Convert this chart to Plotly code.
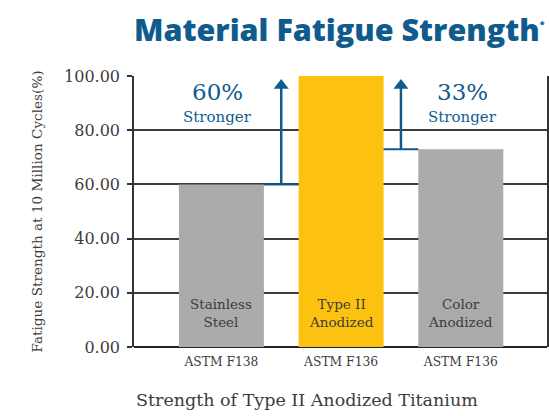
import plotly.graph_objects as go

categories = ["Stainless<br>Steel", "Type II<br>Anodized", "Color<br>Anodized"]
standards = ["ASTM F138", "ASTM F136", "ASTM F136"]
strength = [60, 100, 73]
bar_colors = ["#aaabaa", "#fdc20f", "#aaabaa"]
gains = ["60%", "33%"]
y_ticks = [0, 20, 40, 60, 80, 100]

BLUE = "#105b8e"
TXT = "#3c3c3c"
SERIF = "DejaVu Serif"

xs = list(range(len(categories)))
bw = 0.71

fig = go.Figure()
fig.add_trace(go.Bar(x=xs, y=strength, width=bw, marker=dict(color=bar_colors, line=dict(width=0)),
                     hoverinfo="skip", showlegend=False))

# bar inner labels
for i, c in enumerate(categories):
    fig.add_annotation(x=i, y=12.5, text=c, showarrow=False, xref="x", yref="y",
                       font=dict(family=SERIF, size=13.5, color=TXT), align="center")

# comparison arrows: from each grey bar up to the Type II level
pairs = [(0, 1), (2, 1)]
for k, (src, ref) in enumerate(pairs):
    xm = (src + ref) / 2
    y0 = strength[src]
    x_edge_a = min(src, ref) + bw / 2
    x_edge_b = max(src, ref) - bw / 2
    tip = strength[ref] - 3.5
    fig.add_trace(go.Scatter(x=[x_edge_a, xm, x_edge_b], y=[y0, y0, y0], mode="lines",
                             line=dict(color=BLUE, width=2), hoverinfo="skip", showlegend=False))
    fig.add_trace(go.Scatter(x=[xm, xm], y=[y0, tip], mode="lines",
                             line=dict(color=BLUE, width=2.5), hoverinfo="skip", showlegend=False))
    fig.add_trace(go.Scatter(x=[xm], y=[tip], mode="markers",
                             marker=dict(symbol="triangle-up", size=13, color=BLUE, line=dict(width=0)),
                             hoverinfo="skip", showlegend=False))
    fig.add_annotation(x=src - 0.03 + (0.04 if src else 0), y=94, text=gains[k], showarrow=False,
                       font=dict(family=SERIF, size=23, color=BLUE))
    fig.add_annotation(x=src - 0.03 + (0.04 if src else 0), y=84.7, text="Stronger", showarrow=False,
                       font=dict(family=SERIF, size=15, color=BLUE))

# x-axis title (sits left of the plot centre in the reference)
fig.add_annotation(text="Strength of Type II Anodized Titanium", xref="paper", yref="paper",
                   x=0.419, y=-0.196, xanchor="center", yanchor="middle", showarrow=False,
                   font=dict(family=SERIF, size=17.5, color=TXT))

fig.update_layout(
    width=549, height=416,
    margin=dict(l=134, r=2, t=76, b=69),
    paper_bgcolor="white", plot_bgcolor="white",
    title=dict(text="Material Fatigue Strength<sup><span style='font-size:9px'>*</span></sup>",
               x=0.0, xref="paper", xanchor="left",
               y=1 - 30 / 416, yref="container", yanchor="middle",
               font=dict(family="Open Sans", size=30.5, color=BLUE, weight=800)),
    xaxis=dict(tickmode="array", tickvals=xs, ticktext=standards, range=[-0.73, 2.72],
               showgrid=False, zeroline=False, showline=False, ticks="", ticklabelstandoff=6,
               tickfont=dict(family=SERIF, size=12.3, color=TXT), automargin=False),
    yaxis=dict(range=[0, 100], tickmode="array", tickvals=y_ticks,
               ticktext=[f"{v:.2f}" for v in y_ticks],
               showgrid=True, gridcolor="#3c3c3c", gridwidth=1.5,
               zeroline=True, zerolinecolor="#222", zerolinewidth=1.5,
               showline=True, linecolor="#333", linewidth=1.5, mirror=True,
               ticks="outside", ticklen=5, tickcolor="#333", tickwidth=1.5,
               ticklabelstandoff=4, automargin=False,
               layer="below traces",
               tickfont=dict(family=SERIF, size=16, color=TXT),
               title=dict(text="Fatigue Strength at 10 Million Cycles(%)", standoff=18,
                          font=dict(family=SERIF, size=13.6, color=TXT))),
    bargap=0.3,
)

fig.write_html("out.html", config={"displayModeBar": False},
               post_script="document.body.style.margin='0';document.body.style.overflow='hidden';")
